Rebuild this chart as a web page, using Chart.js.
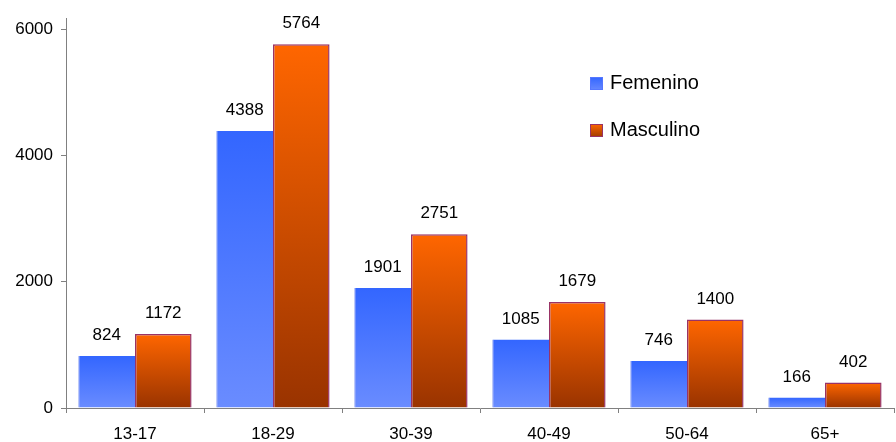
<!DOCTYPE html>
<html>
<head>
<meta charset="utf-8">
<script src="https://cdn.jsdelivr.net/npm/chart.js@4"></script>
<style>
  html, body { margin: 0; padding: 0; background: #fff; }
  #wrap { width: 896px; height: 442px; }
</style>
</head>
<body>
<div id="wrap"><canvas id="chart"></canvas></div>
<script>
const categorias = ['13-17', '18-29', '30-39', '40-49', '50-64', '65+'];
const femenino = [824, 4388, 1901, 1085, 746, 166];
const masculino = [1172, 5764, 2751, 1679, 1400, 402];
const yTicks = [0, 2000, 4000, 6000];

const FONT = '"Liberation Sans", Arial, sans-serif';

function barGradient(top, bottom) {
    return function (c) {
        const chart = c.chart;
        const y = chart.scales.y;
        if (!chart.chartArea || !y || c.raw === undefined) return top;
        const y1 = y.getPixelForValue(c.raw);
        const y0 = y.getPixelForValue(0);
        if (!isFinite(y1) || !isFinite(y0) || y1 === y0) return top;
        const g = chart.ctx.createLinearGradient(0, y1, 0, y0);
        g.addColorStop(0, top);
        g.addColorStop(1, bottom);
        return g;
    };
}

const valueLabels = {
    id: 'valueLabels',
    afterDatasetsDraw(chart) {
        const ctx = chart.ctx;
        ctx.save();
        ctx.font = '17px ' + FONT;
        ctx.fillStyle = '#000';
        ctx.textAlign = 'center';
        ctx.textBaseline = 'alphabetic';
        chart.data.datasets.forEach((ds, i) => {
            chart.getDatasetMeta(i).data.forEach((bar, j) => {
                ctx.fillText(String(ds.data[j]), bar.x, bar.y - 16);
            });
        });
        ctx.restore();
    }
};

const sideLegend = {
    id: 'sideLegend',
    afterDraw(chart) {
        const ctx = chart.ctx;
        const items = [
            { text: 'Femenino', top: '#3366ff', bottom: '#6688ff', border: '#5577ff', cy: 83 },
            { text: 'Masculino', top: '#ff6600', bottom: '#a03c00', border: '#993366', cy: 130.5 }
        ];
        ctx.save();
        ctx.font = '20px ' + FONT;
        ctx.textBaseline = 'middle';
        items.forEach(it => {
            const y = Math.round(it.cy - 6.5);
            const g = ctx.createLinearGradient(0, y, 0, y + 13);
            g.addColorStop(0, it.top);
            g.addColorStop(1, it.bottom);
            ctx.fillStyle = g;
            ctx.fillRect(590, y, 13, 13);
            ctx.strokeStyle = it.border;
            ctx.lineWidth = 1;
            ctx.strokeRect(590.5, y + 0.5, 12, 12);
            ctx.fillStyle = '#000';
            ctx.fillText(it.text, 610, it.cy);
        });
        ctx.restore();
    }
};

new Chart(document.getElementById('chart'), {
    type: 'bar',
    data: {
        labels: categorias,
        datasets: [
            {
                label: 'Femenino',
                data: femenino,
                backgroundColor: barGradient('#3366ff', '#6a8cff'),
                borderColor: '#3d5fee',
                borderWidth: { left: 1, right: 0, top: 0, bottom: 0 },
                categoryPercentage: 0.82,
                barPercentage: 1.0
            },
            {
                label: 'Masculino',
                data: masculino,
                backgroundColor: barGradient('#ff6600', '#993300'),
                borderColor: '#993366',
                borderWidth: 1.5,
                categoryPercentage: 0.82,
                barPercentage: 1.0
            }
        ]
    },
    options: {
        responsive: true,
        maintainAspectRatio: false,
        animation: false,
        layout: { padding: { top: 13, right: 2, left: 0, bottom: 0 } },
        plugins: {
            legend: { display: false },
            tooltip: { enabled: false }
        },
        scales: {
            x: {
                offset: true,
                afterFit(axis) { axis.height = 34; },
                grid: {
                    display: true,
                    offset: true,
                    drawOnChartArea: false,
                    tickLength: 5,
                    color: '#808080'
                },
                border: { display: true, color: '#808080', width: 1 },
                ticks: {
                    color: '#000',
                    padding: 11,
                    font: { family: FONT, size: 17 }
                }
            },
            y: {
                min: 0,
                max: 6175,
                afterFit(axis) { axis.width = 66; },
                afterBuildTicks(axis) {
                    axis.ticks = yTicks.map(v => ({ value: v }));
                },
                grid: {
                    display: true,
                    drawOnChartArea: false,
                    tickLength: 5,
                    color: '#808080'
                },
                border: { display: true, color: '#808080', width: 1 },
                ticks: {
                    color: '#000',
                    padding: 8,
                    callback: v => String(v),
                    font: { family: FONT, size: 17 }
                }
            }
        }
    },
    plugins: [valueLabels, sideLegend]
});
</script>
</body>
</html>
